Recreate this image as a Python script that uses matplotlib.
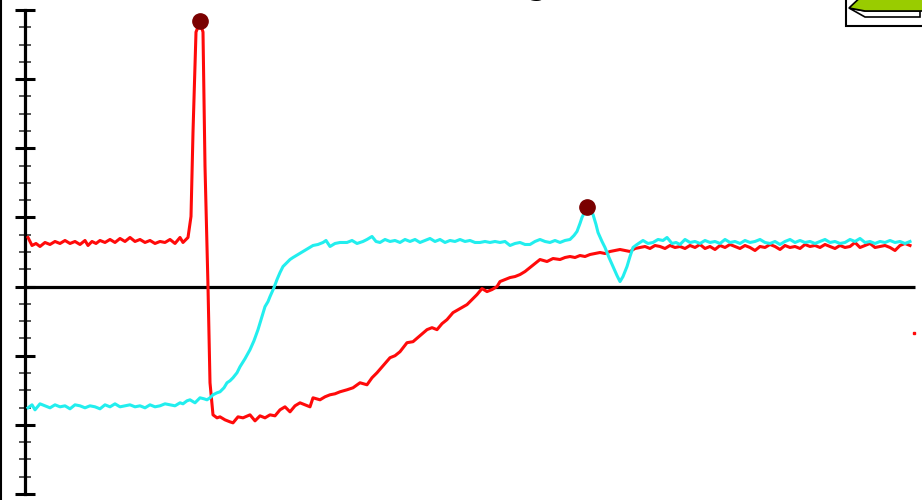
import numpy as np
import matplotlib.pyplot as plt
from matplotlib.patches import Polygon, Rectangle
from matplotlib.lines import Line2D

# values: time (px from axis) and level above baseline
# one major y division = 69 units
DIV = 69.0

red_t = [3, 7, 11, 15, 20, 25, 30, 35, 40, 45, 50, 55, 60, 63, 67, 71, 75, 80, 85, 90,
         95, 100, 105, 110, 115, 120, 125, 130, 135, 140, 145, 150, 155, 158, 161, 163,
         166, 168, 171, 175, 178, 180, 183, 185, 188, 192, 195, 200, 205, 208, 213, 218,
         225, 230, 235, 240, 245, 250, 255, 260, 265, 270, 275, 280, 285, 288, 295, 300,
         305, 310, 315, 322, 328, 335, 342, 347, 352, 358, 365, 370, 375, 382, 388, 395,
         402, 407, 412, 417, 422, 428, 435, 442, 447, 452, 457, 462, 467, 472, 475, 480,
         485, 490, 495, 500, 505, 510, 515, 522, 528, 535, 540, 545, 550, 555, 560, 565,
         570, 575, 580, 585, 590, 595, 600, 605, 610, 615, 620, 625, 630, 635, 640, 645,
         650, 655, 660, 665, 670, 675, 680, 685, 690, 695, 700, 705, 710, 715, 720, 725,
         730, 735, 740, 745, 750, 755, 760, 765, 770, 775, 780, 785, 790, 795, 800, 805,
         810, 815, 820, 825, 830, 835, 840, 845, 850, 855, 860, 865, 870, 875, 880, 885]
red_v = [49, 41, 43, 40, 44, 42, 45, 43, 46, 43, 45, 42, 46, 41, 45, 43, 46, 44, 47, 44,
         48, 45, 49, 45, 47, 44, 46, 43, 45, 44, 47, 43, 49, 44, 47, 49,
         70, 154, 254, 264, 254, 120, 0, -96, -128, -131, -130, -133, -135, -136, -130, -131,
         -128, -134, -129, -131, -128, -129, -123, -120, -125, -119, -116, -118, -120, -111, -113, -110,
         -108, -107, -105, -103, -101, -96, -98, -91, -86, -79, -71, -69, -65, -56, -55, -49,
         -43, -41, -43, -37, -33, -26, -22, -18, -13, -8, -2, -5, -3, 0, 5, 7,
         9, 10, 12, 15, 19, 23, 27, 25, 28, 27, 29, 30, 29, 31, 30, 32,
         33, 34, 33, 35, 36, 37, 36, 35, 38, 39, 40, 38, 41, 40, 38, 41,
         39, 40, 38, 41, 39, 42, 38, 40, 37, 41, 39, 42, 40, 38, 41, 39,
         36, 40, 39, 42, 40, 37, 41, 39, 40, 38, 42, 40, 41, 39, 42, 40,
         38, 41, 39, 40, 44, 39, 41, 43, 39, 40, 41, 39, 36, 41, 43, 41]

cyan_t = [3, 7, 10, 15, 20, 25, 30, 35, 40, 45, 50, 55, 60, 65, 70, 75, 80, 85, 90, 95,
          100, 105, 110, 115, 120, 125, 130, 135, 140, 145, 150, 155, 158, 162, 165, 170,
          175, 179, 182, 185, 188, 192, 195, 199, 202, 205, 208, 212, 215, 220, 225, 229,
          233, 237, 240, 243, 245, 249, 252, 255, 258, 261, 265, 268, 273, 278, 283, 288,
          293, 298, 301, 305, 310, 315, 322, 327, 332, 338, 342, 347, 351, 355, 360, 365,
          370, 375, 380, 385, 390, 395, 400, 405, 410, 415, 420, 425, 430, 435, 440, 445,
          450, 455, 460, 465, 470, 475, 480, 485, 490, 495, 500, 505, 510, 515, 520, 525,
          530, 535, 540, 545, 549, 552, 555, 557, 560, 562, 565, 568, 571, 573, 577, 580,
          584, 588, 592, 595, 598, 602, 605, 608, 612, 615, 618, 623, 628, 633, 638, 642,
          647, 651, 655, 660, 665, 670, 675, 680, 685, 690, 695, 700, 705, 710, 715, 720,
          725, 730, 735, 740, 745, 750, 755, 760, 765, 770, 775, 780, 785, 790, 795, 800,
          805, 810, 815, 820, 825, 830, 835, 840, 845, 850, 855, 860, 865, 870, 875, 880, 885]
cyan_v = [-121, -118, -123, -117, -119, -121, -118, -120, -119, -122, -118, -119, -121, -119, -120, -122, -118, -120, -117, -120,
          -119, -118, -120, -119, -121, -118, -120, -119, -117, -118, -119, -116, -117, -114, -113, -116,
          -111, -112, -113, -111, -108, -106, -105, -101, -96, -94, -91, -86, -80, -72, -63, -54,
          -43, -30, -20, -15, -10, -1, 7, 14, 20, 23, 27, 29, 32, 35, 38, 41,
          42, 44, 46, 40, 43, 44, 44, 46, 43, 45, 47, 50, 45, 44, 47, 45,
          46, 44, 47, 45, 47, 44, 46, 48, 45, 47, 44, 46, 45, 47, 45, 46,
          44, 44, 45, 44, 45, 44, 45, 41, 43, 44, 42, 42, 45, 47, 45, 44,
          46, 44, 46, 47, 51, 55, 63, 69, 75, 77, 75, 72, 62, 54, 45, 39,
          29, 20, 11, 5, 10, 20, 30, 39, 42, 44, 46, 43, 44, 47, 46, 49,
          43, 44, 42, 47, 44, 45, 43, 46, 44, 45, 43, 47, 44, 45, 43, 46,
          44, 45, 47, 44, 43, 45, 42, 45, 47, 44, 46, 44, 45, 43, 45, 47,
          44, 45, 43, 44, 47, 45, 48, 44, 45, 43, 45, 44, 46, 44, 45, 43, 45]

peak_t = [175, 562]
peak_v = [265, 79]

red_t = np.array(red_t)
red_v = np.array(red_v) / DIV
cyan_t = np.array(cyan_t)
cyan_v = np.array(cyan_v) / DIV
peak_v = np.array(peak_v) / DIV

fig = plt.figure(figsize=(9.22, 5.0), dpi=100)
ax = fig.add_axes([25 / 922, 6 / 500, 897 / 922, 484 / 500])
ax.set_xlim(0, 897)
ax.set_ylim(-3, 4)

# baseline
ax.plot([0, 890], [0, 0], color='black', lw=2.3, solid_capstyle='butt', zorder=2)

ax.plot(red_t, red_v, color='#ff0a0a', lw=2.2, zorder=3, solid_joinstyle='round')
ax.plot(cyan_t, cyan_v, color='#22eeee', lw=2.2, zorder=4, solid_joinstyle='round')
ax.plot([889], [-46 / DIV], 's', color='#ff0a0a', ms=1.5, zorder=4)
ax.plot(peak_t, peak_v, 'o', color='#7a0000', ms=11, zorder=5, clip_on=False)

for s in ['top', 'right', 'bottom']:
    ax.spines[s].set_visible(False)
ax.spines['left'].set_linewidth(2.3)
ax.set_xticks([])
ax.set_yticks(np.arange(-3, 5, 1))
ax.set_yticks(np.arange(-3, 4, 0.25), minor=True)
ax.tick_params(axis='y', which='major', direction='inout', length=15, width=2.2,
               labelleft=False)
ax.tick_params(axis='y', which='minor', direction='inout', length=8, width=1.4,
               color='#555555')

# left border of the slide
fig.add_artist(Line2D([0.6 / 922, 0.6 / 922], [0, 1], transform=fig.transFigure,
                      color='black', lw=1.5))

# cut-off title (only a descender shows)
fig.text(537 / 922, 1 + 6 / 500, "g", fontsize=26, ha='center', va='baseline')

# green "back" button, top right
def px(x, y):
    return (x / 922, 1 - y / 500)

fig.add_artist(Rectangle(px(846, 26), 80 / 922, 32 / 500, transform=fig.transFigure,
                         facecolor='white', edgecolor='black', lw=1.5))
fig.add_artist(Polygon([px(849, 8), px(865, 17), px(920, 17), px(920, 11), px(865, 11)],
                       closed=True, transform=fig.transFigure,
                       facecolor='white', edgecolor='black', lw=1.2))
fig.add_artist(Polygon([px(849, 8), px(866, -8), px(866, -3), px(925, -3),
                        px(925, 11), px(865, 11)],
                       closed=True, transform=fig.transFigure,
                       facecolor='#99cc00', edgecolor='black', lw=1.2))

fig.savefig('out.png', dpi=100)
